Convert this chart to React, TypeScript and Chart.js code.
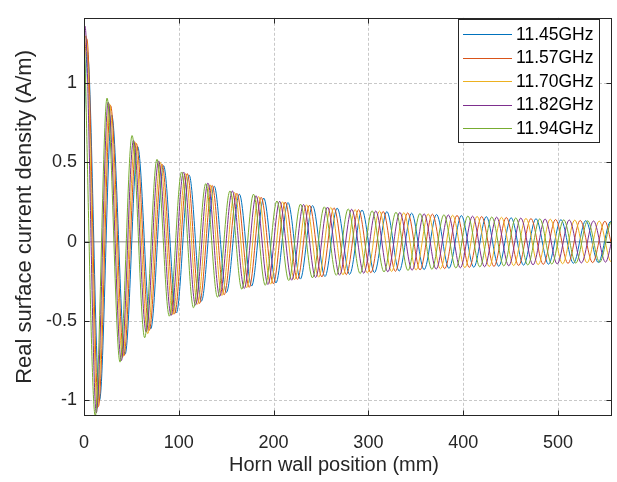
import { useEffect, useRef } from 'react';
import { Chart, registerables } from 'chart.js';

Chart.register(...registerables);

const seriesNames = ['11.45GHz', '11.57GHz', '11.70GHz', '11.82GHz', '11.94GHz'];
const seriesColors = ['#0072BD', '#D95319', '#EDB120', '#7E2F8E', '#77AC30'];

const xTicks = [0, 100, 200, 300, 400, 500];
const yTicks = [-1, -0.5, 0, 0.5, 1];
const X_MIN = 0;
const X_MAX = 557;
const Y_MIN = -1.1;
const Y_MAX = 1.413;
const xTitle = 'Horn wall position (mm)';
const yTitle = 'Real surface current density (A/m)';

// positions (mm) and values (A/m) read at the turning points of each curve
const xBlue = [0, 3.5, 16.4, 29.2, 43.4, 56.6, 70.4, 83.9, 97.4, 110.9, 123.9, 137.4, 150.2, 163.9, 176.8, 189.6, 202.5, 215.2, 228.2, 241.1, 254.2, 267.1, 280.2, 293.3, 306.4, 319.5, 332.5, 345.6, 358.8, 371.9, 385.0, 398.1, 411.2, 424.4, 437.5, 450.6, 463.7, 476.8, 490.0, 503.1, 516.3, 529.3, 542.5, 555.6, 557];
const yBlue = [0.73, 1.20, -1.00, 0.80, -0.71, 0.60, -0.55, 0.48, -0.45, 0.42, -0.375, 0.35, -0.32, 0.30, -0.28, 0.275, -0.26, 0.247, -0.236, 0.228, -0.22, 0.212, -0.206, 0.20, -0.195, 0.19, -0.185, 0.18, -0.176, 0.172, -0.168, 0.165, -0.161, 0.158, -0.155, 0.151, -0.148, 0.145, -0.142, 0.139, -0.136, 0.133, -0.131, 0.128, 0.127];

const xOrange = [0, 3.0, 15.2, 28.0, 42.1, 55.2, 68.8, 82.2, 95.6, 108.9, 121.8, 135.2, 147.8, 161.4, 174.3, 186.9, 199.7, 212.3, 225.2, 237.9, 250.9, 263.7, 276.7, 289.6, 302.6, 315.6, 328.5, 341.5, 354.5, 367.5, 380.5, 393.5, 406.5, 419.5, 432.5, 445.5, 458.5, 471.5, 484.5, 497.5, 510.6, 523.5, 536.6, 549.5, 557];
const yOrange = [1.12, 1.28, -1.04, 0.86, -0.72, 0.62, -0.56, 0.49, -0.455, 0.43, -0.39, 0.355, -0.335, 0.305, -0.288, 0.28, -0.265, 0.25, -0.238, 0.23, -0.222, 0.214, -0.208, 0.202, -0.196, 0.191, -0.187, 0.182, -0.178, 0.174, -0.170, 0.166, -0.162, 0.159, -0.156, 0.153, -0.150, 0.146, -0.143, 0.140, -0.137, 0.134, -0.132, 0.129, -0.03];

const xYellow = [0, 2.0, 14.1, 26.8, 40.7, 53.7, 67.2, 80.5, 93.7, 107.0, 119.7, 132.9, 145.5, 158.9, 171.7, 184.2, 196.8, 209.4, 222.1, 234.7, 247.6, 260.3, 273.2, 286.0, 298.8, 311.7, 324.5, 337.4, 350.3, 363.1, 376.0, 388.9, 401.8, 414.7, 427.5, 440.4, 453.3, 466.2, 479.1, 491.9, 504.9, 517.7, 530.7, 543.5, 556.3, 557];
const yYellow = [1.22, 1.30, -1.05, 0.87, -0.73, 0.63, -0.58, 0.50, -0.46, 0.43, -0.395, 0.36, -0.34, 0.31, -0.29, 0.285, -0.268, 0.252, -0.24, 0.233, -0.224, 0.216, -0.209, 0.203, -0.197, 0.193, -0.188, 0.183, -0.179, 0.175, -0.171, 0.167, -0.164, 0.160, -0.157, 0.154, -0.151, 0.147, -0.145, 0.142, -0.139, 0.136, -0.133, 0.130, -0.128, -0.128];

const xPurple = [0, 1.0, 13.0, 25.5, 39.4, 52.2, 65.6, 78.7, 91.9, 105.0, 117.6, 130.7, 143.1, 156.5, 169.1, 181.5, 194.0, 206.4, 219.1, 231.6, 244.3, 256.9, 269.6, 282.4, 295.1, 307.8, 320.5, 333.2, 346.1, 358.8, 371.5, 384.3, 397.0, 409.9, 422.6, 435.3, 448.1, 460.8, 473.7, 486.4, 499.2, 511.9, 524.7, 537.5, 550.2, 557];
const yPurple = [1.30, 1.36, -1.08, 0.88, -0.75, 0.64, -0.57, 0.51, -0.465, 0.44, -0.40, 0.37, -0.345, 0.32, -0.295, 0.29, -0.27, 0.255, -0.243, 0.235, -0.226, 0.218, -0.211, 0.205, -0.199, 0.194, -0.19, 0.185, -0.18, 0.176, -0.173, 0.169, -0.165, 0.161, -0.158, 0.155, -0.152, 0.149, -0.146, 0.143, -0.140, 0.137, -0.134, 0.131, -0.129, 0.01];

const xGreen = [0, 11.9, 24.3, 38.0, 50.7, 64.0, 77.0, 90.0, 103.0, 115.5, 128.5, 140.8, 154.0, 166.5, 178.8, 191.2, 203.5, 216.0, 228.4, 241.0, 253.5, 266.1, 278.7, 291.3, 303.9, 316.5, 329.1, 341.8, 354.4, 367.0, 379.7, 392.3, 405.0, 417.6, 430.2, 442.9, 455.5, 468.2, 480.8, 493.5, 506.1, 518.8, 531.4, 544.0, 556.7, 557];
const yGreen = [1.41, -1.10, 0.906, -0.76, 0.67, -0.606, 0.52, -0.47, 0.44, -0.417, 0.367, -0.35, 0.32, -0.30, 0.30, -0.275, 0.257, -0.245, 0.237, -0.228, 0.22, -0.212, 0.207, -0.201, 0.195, -0.191, 0.186, -0.182, 0.178, -0.174, 0.170, -0.166, 0.162, -0.159, 0.156, -0.153, 0.150, -0.147, 0.144, -0.141, 0.138, -0.135, 0.132, -0.130, 0.127, 0.127];

const seriesX = [xBlue, xOrange, xYellow, xPurple, xGreen];
const seriesY = [yBlue, yOrange, yYellow, yPurple, yGreen];

const FONT = '"Liberation Sans", Arial, Helvetica, sans-serif';
const AXIS_COLOR = '#262626';

const framePlugin = {
  id: 'matlabFrame',
  beforeDatasetsDraw(chart: any) {
    const { ctx, chartArea: a, scales } = chart;
    const xs = scales.x;
    const ys = scales.y;
    ctx.save();
    ctx.strokeStyle = '#c8c8c8';
    ctx.lineWidth = 1;
    ctx.setLineDash([3, 2]);
    xTicks.forEach((v) => {
      if (v === X_MIN) return;
      const px = Math.round(xs.getPixelForValue(v)) + 0.5;
      ctx.beginPath();
      ctx.moveTo(px, a.top);
      ctx.lineTo(px, a.bottom);
      ctx.stroke();
    });
    yTicks.forEach((v) => {
      if (v === 0) return;
      const py = Math.round(ys.getPixelForValue(v)) + 0.5;
      ctx.beginPath();
      ctx.moveTo(a.left, py);
      ctx.lineTo(a.right, py);
      ctx.stroke();
    });
    ctx.setLineDash([]);
    ctx.strokeStyle = '#b0b0b0';
    ctx.lineWidth = 1.5;
    const pz = ys.getPixelForValue(0);
    ctx.beginPath();
    ctx.moveTo(a.left, pz);
    ctx.lineTo(a.right, pz);
    ctx.stroke();
    ctx.restore();
  },
  afterDatasetsDraw(chart: any) {
    const { ctx, chartArea: a, scales } = chart;
    const xs = scales.x;
    const ys = scales.y;
    ctx.save();
    ctx.strokeStyle = AXIS_COLOR;
    ctx.lineWidth = 1;
    const L = Math.round(a.left) + 0.5;
    const R = Math.round(a.right) - 0.5;
    const T = Math.round(a.top) + 0.5;
    const B = Math.round(a.bottom) - 0.5;
    ctx.strokeRect(L, T, R - L, B - T);
    const tl = 5;
    xTicks.forEach((v) => {
      const px = Math.round(xs.getPixelForValue(v)) + 0.5;
      ctx.beginPath();
      ctx.moveTo(px, B);
      ctx.lineTo(px, B - tl);
      ctx.moveTo(px, T);
      ctx.lineTo(px, T + tl);
      ctx.stroke();
    });
    yTicks.forEach((v) => {
      const py = Math.round(ys.getPixelForValue(v)) + 0.5;
      ctx.beginPath();
      ctx.moveTo(L, py);
      ctx.lineTo(L + tl, py);
      ctx.moveTo(R, py);
      ctx.lineTo(R - tl, py);
      ctx.stroke();
    });

    // x axis title (placed as in the reference, slightly left of centre)
    ctx.fillStyle = AXIS_COLOR;
    ctx.font = `20px ${FONT}`;
    ctx.textAlign = 'center';
    ctx.textBaseline = 'middle';
    ctx.fillText(xTitle, 334, 465);

    // legend box
    const bx = 458.5;
    const by = 19.5;
    const bw = 141;
    const bh = 123;
    ctx.fillStyle = '#ffffff';
    ctx.fillRect(bx, by, bw, bh);
    ctx.strokeStyle = AXIS_COLOR;
    ctx.strokeRect(bx, by, bw, bh);
    ctx.font = `17.5px ${FONT}`;
    ctx.textBaseline = 'middle';
    ctx.textAlign = 'left';
    seriesNames.forEach((name, i) => {
      const ry = 34 + i * 23.5;
      ctx.strokeStyle = seriesColors[i];
      ctx.lineWidth = 1;
      ctx.beginPath();
      ctx.moveTo(463, Math.round(ry) + 0.5);
      ctx.lineTo(512, Math.round(ry) + 0.5);
      ctx.stroke();
      ctx.fillStyle = '#000000';
      ctx.fillText(name, 516, ry + 1);
    });
    ctx.restore();
  },
};

export default function App() {
  const canvasRef = useRef<HTMLCanvasElement | null>(null);

  useEffect(() => {
    const canvas = canvasRef.current;
    if (!canvas) return;
    const datasets = seriesNames.map((name, i) => ({
      label: name,
      data: seriesX[i].map((xv, j) => ({ x: xv, y: seriesY[i][j] })),
      borderColor: seriesColors[i],
      backgroundColor: seriesColors[i],
      borderWidth: 1,
      pointRadius: 0,
      fill: false,
      cubicInterpolationMode: 'monotone' as const,
      order: seriesNames.length - 1 - i,
    }));

    const chart = new Chart(canvas, {
      type: 'line',
      data: { datasets },
      plugins: [framePlugin],
      options: {
        responsive: false,
        animation: false,
        devicePixelRatio: 1,
        parsing: false,
        normalized: true,
        layout: { padding: { left: 0, right: 5, top: 5, bottom: 0 } },
        plugins: {
          legend: { display: false },
          tooltip: { enabled: false },
        },
        elements: { point: { radius: 0 } },
        scales: {
          x: {
            type: 'linear',
            min: X_MIN,
            max: X_MAX,
            grid: { display: false, drawTicks: false },
            border: { display: false },
            ticks: {
              color: AXIS_COLOR,
              font: { family: FONT, size: 18 },
              padding: 16,
              maxRotation: 0,
              autoSkip: false,
              callback: (v: any) => String(v),
            },
            afterBuildTicks: (s: any) => {
              s.ticks = xTicks.map((v) => ({ value: v }));
            },
            afterFit: (s: any) => {
              s.height = 66;
            },
            title: { display: false },
          },
          y: {
            type: 'linear',
            min: Y_MIN,
            max: Y_MAX,
            grid: { display: false, drawTicks: false },
            border: { display: false },
            ticks: {
              color: AXIS_COLOR,
              font: { family: FONT, size: 18 },
              padding: 7,
              autoSkip: false,
              callback: (v: any) => String(v),
            },
            afterBuildTicks: (s: any) => {
              s.ticks = yTicks.map((v) => ({ value: v }));
            },
            afterFit: (s: any) => {
              s.width = 84;
            },
            title: {
              display: true,
              text: yTitle,
              color: AXIS_COLOR,
              font: { family: FONT, size: 22 },
              padding: { top: 12, bottom: 0 },
            },
          },
        },
      },
    });
    return () => chart.destroy();
  }, []);

  return (
    <div style={{ position: 'absolute', left: 0, top: 0, width: 617, height: 482, background: '#ffffff' }}>
      <canvas ref={canvasRef} width={617} height={482} style={{ display: 'block' }} />
    </div>
  );
}
